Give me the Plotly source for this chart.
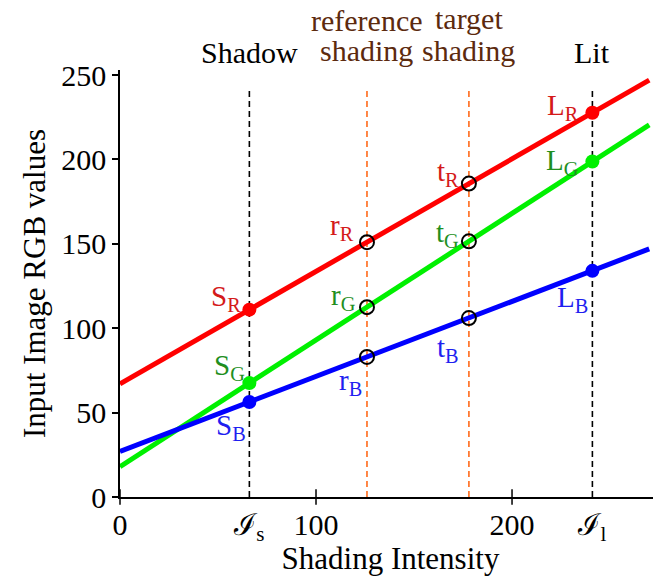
import plotly.graph_objects as go

# ---- data ----
line_x = [0, 270]
red_line = [67, 247]
green_line = [18, 220.5]
blue_line = [27, 147]

I_s = 66
I_l = 241
ref_x = 126
tgt_x = 178

red_pts = [111, 151, 185.7, 227.7]     # S_R, r_R, t_R, L_R
green_pts = [67.5, 112.5, 151.5, 198.75]  # S_G, r_G, t_G, L_G
blue_pts = [56.3, 83, 106, 134]        # S_B, r_B, t_B, L_B

x_tickvals = [0, I_s, 100, 200, I_l]
x_ticktext = ["0", "ℐ<sub>s</sub>", "100", "200", "ℐ<sub>l</sub>"]
y_tickvals = [0, 50, 100, 150, 200, 250]
x_major = [0, 100, 200]

FONT = "Liberation Serif, Times New Roman, serif"
RED, GREEN, BLUE = "#ff0000", "#00f000", "#0000ff"
RED_T, GREEN_T, BLUE_T = "#d41a1a", "#1f8f1f", "#1f1ff0"
ORANGE = "#ff6a1a"
BROWN = "#5c2a0e"

fig = go.Figure()

# vertical dashed guides
dash_top = 242
for xv, col in [(I_s, "black"), (ref_x, ORANGE), (tgt_x, ORANGE), (I_l, "black")]:
    fig.add_trace(go.Scatter(x=[xv, xv], y=[0, dash_top], mode="lines",
                             line=dict(color=col, width=1.6, dash="6px,4px"),
                             hoverinfo="skip", showlegend=False))

# the three lines
for ys, col in [(red_line, RED), (green_line, GREEN), (blue_line, BLUE)]:
    fig.add_trace(go.Scatter(x=line_x, y=ys, mode="lines",
                             line=dict(color=col, width=5), showlegend=False))

# filled points at I_s and I_l, open circles at reference/target
for pts, col in [(red_pts, RED), (green_pts, GREEN), (blue_pts, BLUE)]:
    fig.add_trace(go.Scatter(x=[I_s, I_l], y=[pts[0], pts[3]], mode="markers",
                             marker=dict(color=col, size=14), showlegend=False))
    fig.add_trace(go.Scatter(x=[ref_x, tgt_x], y=[pts[1], pts[2]], mode="markers",
                             marker=dict(symbol="circle-open", color="black", size=14,
                                         line=dict(width=2)), showlegend=False))

# crossing tick marks on x axis
fig.add_trace(go.Scatter(x=x_major, y=[0] * len(x_major), mode="markers",
                         marker=dict(symbol="line-ns-open", size=11, color="black",
                                     line=dict(width=1.5, color="black")),
                         showlegend=False, hoverinfo="skip", cliponaxis=False))

xs = [I_s, ref_x, tgt_x, I_l]
labels = [
    (red_pts, RED_T, ["S", "r", "t", "L"], "R", [(-23, 12), (-25, 15), (-21, 11), (-29, 6)]),
    (green_pts, GREEN_T, ["S", "r", "t", "L"], "G", [(-20, 16), (-23, 10), (-21, 7), (-30, 0)]),
    (blue_pts, BLUE_T, ["S", "r", "t", "L"], "B", [(-18, -25), (-16, -25), (-21, -31), (-20, -28)]),
]
for pts, col, letters, sub, offs in labels:
    for xv, yv, let, (dx, dy) in zip(xs, pts, letters, offs):
        fig.add_annotation(x=xv, y=yv, text=f"{let}<sub>{sub}</sub>", showarrow=False,
                           xshift=dx, yshift=dy, font=dict(family=FONT, size=29, color=col))

# top labels (paper y above plot area)
top = [(I_s, 1.042, "Shadow", "black"), (I_l, 1.042, "Lit", "black"),
       (ref_x, 1.117, "reference", BROWN), (ref_x, 1.045, "shading", BROWN),
       (tgt_x, 1.120, "target", BROWN), (tgt_x, 1.045, "shading", BROWN)]
for xv, yv, t, col in top:
    fig.add_annotation(x=xv, y=yv, xref="x", yref="paper", text=t, showarrow=False,
                       yanchor="middle", font=dict(family=FONT, size=30, color=col))

fig.update_layout(
    width=653, height=570,
    margin=dict(l=112, r=0, t=62, b=81),
    paper_bgcolor="white", plot_bgcolor="white",
    font=dict(family=FONT, size=30, color="black"),
    xaxis=dict(range=[0, 276], tickvals=x_tickvals, ticktext=x_ticktext,
               showgrid=False, zeroline=False, showline=True, linecolor="black",
               linewidth=1.5, ticks="", ticklabelstandoff=0,
               title=dict(text="Shading Intensity", standoff=0,
                          font=dict(family=FONT, size=31)),
               tickfont=dict(family=FONT, size=30)),
    yaxis=dict(range=[0, 253], tickvals=y_tickvals,
               showgrid=False, zeroline=False, showline=True, linecolor="black",
               linewidth=1.5, ticks="outside", ticklen=6, tickwidth=1.5, tickcolor="black",
               ticklabelstandoff=0,
               title=dict(text="Input Image RGB values", standoff=6,
                          font=dict(family=FONT, size=31)),
               tickfont=dict(family=FONT, size=30)),
)

fig.write_html("out.html")
